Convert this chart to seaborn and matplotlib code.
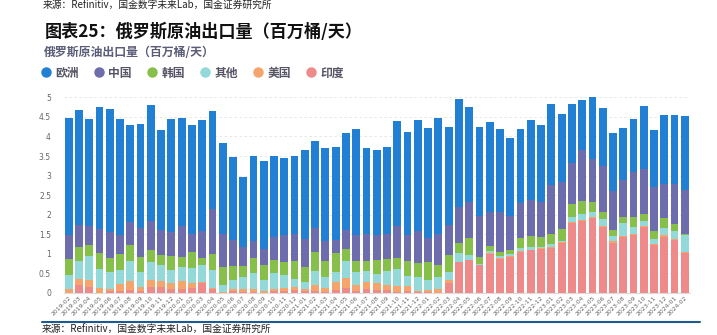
import numpy as np
import pandas as pd
import matplotlib
matplotlib.use("Agg")
import matplotlib.pyplot as plt
from matplotlib.lines import Line2D
import seaborn as sns

months = list(pd.period_range("2019-02", "2024-02", freq="M").strftime("%Y-%m"))

europe = [3.01, 2.93, 2.75, 3.11, 3.15, 2.96, 2.47, 2.67, 2.97, 2.56, 2.89, 2.77, 2.78, 2.83, 2.49, 2.32, 2.11, 1.78, 2.15, 2.24,
          2.07, 1.98, 2.01, 2.27, 2.21, 2.37, 2.39, 2.50, 2.73, 2.19, 2.18, 2.21, 2.70, 2.64, 2.85, 2.81, 2.95, 2.51, 2.75, 2.43,
          2.28, 2.29, 2.12, 1.99, 1.89, 2.03, 1.95, 2.05, 1.73, 1.52, 1.29, 1.58, 1.47, 1.50, 1.32, 1.36, 1.61, 1.46, 1.75, 1.76, 1.89]
china = [0.60, 0.58, 0.47, 0.61, 0.66, 0.50, 0.59, 0.75, 0.74, 0.63, 0.61, 0.79, 0.47, 0.68, 1.16, 0.84, 0.67, 0.48, 0.45, 0.40,
         0.60, 0.68, 0.68, 0.72, 0.62, 0.50, 0.34, 0.47, 0.65, 0.70, 0.63, 0.64, 0.80, 0.66, 0.81, 0.62, 0.80, 0.76, 0.92, 0.92,
         1.03, 0.87, 1.03, 0.87, 0.89, 0.92, 0.89, 1.25, 1.20, 1.03, 1.31, 1.10, 1.17, 0.99, 0.94, 1.16, 1.16, 1.13, 0.87, 1.03, 1.12]
korea = [0.41, 0.35, 0.28, 0.42, 0.37, 0.39, 0.41, 0.37, 0.31, 0.25, 0.36, 0.25, 0.41, 0.19, 0.39, 0.46, 0.36, 0.28, 0.38, 0.39,
         0.32, 0.34, 0.46, 0.38, 0.50, 0.43, 0.47, 0.30, 0.28, 0.27, 0.35, 0.32, 0.29, 0.38, 0.36, 0.45, 0.30, 0.43, 0.28, 0.43,
         0.18, 0.14, 0.10, 0.11, 0.26, 0.28, 0.26, 0.28, 0.31, 0.34, 0.32, 0.26, 0.20, 0.15, 0.17, 0.24, 0.19, 0.21, 0.25, 0.18, 0.03]
other = [0.36, 0.45, 0.62, 0.47, 0.43, 0.38, 0.50, 0.39, 0.47, 0.41, 0.33, 0.36, 0.39, 0.43, 0.46, 0.19, 0.22, 0.33, 0.42, 0.29,
         0.42, 0.31, 0.20, 0.18, 0.35, 0.26, 0.26, 0.44, 0.33, 0.28, 0.24, 0.36, 0.44, 0.27, 0.35, 0.27, 0.33, 0.21, 0.22, 0.14,
         0.03, 0.06, 0.05, 0.06, 0.07, 0.07, 0.04, 0.07, 0.03, 0.13, 0.15, 0.13, 0.18, 0.14, 0.32, 0.17, 0.12, 0.13, 0.20, 0.20, 0.41]
usa = [0.10, 0.17, 0.17, 0.14, 0.05, 0.18, 0.23, 0.09, 0.16, 0.16, 0.15, 0.20, 0.12, 0.03, 0.04, 0.01, 0.05, 0.06, 0.07, 0.03,
       0.05, 0.08, 0.08, 0.05, 0.15, 0.12, 0.21, 0.26, 0.16, 0.18, 0.17, 0.13, 0.15, 0.12, 0.04, 0.04, 0.09, 0.07, 0.01, 0.00,
       0.00, 0.02, 0.02, 0.02, 0.02, 0.02, 0.02, 0.02, 0.01, 0.03, 0.03, 0.02, 0.02, 0.03, 0.03, 0.03, 0.02, 0.02, 0.03, 0.03, 0.04]
india = [0.00, 0.20, 0.16, 0.00, 0.05, 0.04, 0.08, 0.06, 0.16, 0.15, 0.11, 0.10, 0.13, 0.25, 0.10, 0.01, 0.06, 0.03, 0.02, 0.01,
         0.05, 0.06, 0.08, 0.05, 0.05, 0.02, 0.07, 0.13, 0.05, 0.09, 0.08, 0.07, 0.02, 0.05, 0.02, 0.03, 0.00, 0.26, 0.78, 0.84,
         0.72, 0.99, 0.88, 0.92, 1.05, 1.09, 1.12, 1.15, 1.29, 1.78, 1.84, 1.91, 1.68, 1.29, 1.43, 1.49, 1.69, 1.22, 1.44, 1.35, 1.02]

series_names = ["欧洲", "中国", "韩国", "其他", "美国", "印度"]
colors = {"欧洲": "#2180d4", "中国": "#6d6cac", "韩国": "#86c04a",
          "其他": "#93d9d9", "美国": "#f5a46c", "印度": "#ee8a8a"}

df = pd.DataFrame({"month": months, "欧洲": europe, "中国": china, "韩国": korea,
                   "其他": other, "美国": usa, "印度": india})
stack_order = ["印度", "美国", "其他", "韩国", "中国", "欧洲"]
cum = df[stack_order].cumsum(axis=1)
cum["month"] = df["month"]

sns.set_theme(style="white")
plt.rcParams["font.family"] = ["Noto Sans CJK SC", "DejaVu Sans"]
plt.rcParams["axes.unicode_minus"] = False

fig = plt.figure(figsize=(7.17, 3.35), dpi=100)
ax = fig.add_axes([63.5 / 717, 42 / 335, (690 - 63.5) / 717, (293 - 97.3) / 335])

for name in reversed(stack_order):
    sns.barplot(data=cum, x="month", y=name, color=colors[name], saturation=1,
                width=0.76, linewidth=0, ax=ax, zorder=3)

ax.set_ylim(0, 5)
ax.set_xlim(-0.5, len(months) - 0.5)
ax.set_yticks(np.arange(0, 5.01, 0.5))
ax.set_yticklabels(["0", "0.5", "1", "1.5", "2", "2.5", "3", "3.5", "4", "4.5", "5"],
                   fontsize=5.5, color="#666666", family="DejaVu Sans")
ax.yaxis.grid(True, linestyle=(0, (3, 3)), color="#e3e3e3", linewidth=0.6, zorder=0)
ax.xaxis.grid(False)
ax.set_xlabel("")
ax.set_ylabel("")
ax.tick_params(axis="y", length=0, pad=9)
ax.tick_params(axis="x", length=0, pad=1.5)
ax.set_xticks(range(len(months)))
ax.set_xticklabels(months, rotation=45, ha="right", rotation_mode="anchor",
                   fontsize=4.4, color="#666666", family="DejaVu Sans")
for s in ["top", "right", "left"]:
    ax.spines[s].set_visible(False)
ax.spines["bottom"].set_color("#dddddd")
ax.spines["bottom"].set_linewidth(0.8)

# header / titles
fig.text(43 / 717, 1.0 - 0.5 / 335, "来源：Refinitiv，国金数字未来Lab，国金证券研究所",
         fontsize=7, color="#222222", va="top", ha="left")
fig.text(45 / 717, 1 - 32 / 335, "图表25：俄罗斯原油出口量（百万桶/天）",
         fontsize=12.3, fontweight="bold", color="#111111", va="center", ha="left")
fig.text(44 / 717, 1 - 52 / 335, "俄罗斯原油出口量（百万桶/天）",
         fontsize=8.6, fontweight="bold", color="#5a5c78", va="center", ha="left")

handles = [Line2D([0], [0], marker="o", linestyle="", markersize=6.5,
                  markerfacecolor=colors[n], markeredgecolor=colors[n]) for n in series_names]
leg = fig.legend(handles, series_names, loc="center left",
                 bbox_to_anchor=(40 / 717, 1 - 73 / 335), ncol=6, frameon=False,
                 fontsize=8.5, handletextpad=0.3, columnspacing=1.2, handlelength=1.0,
                 borderaxespad=0, borderpad=0)
for t in leg.get_texts():
    t.set_color("#555566")
    t.set_fontweight("bold")

# footer
fig.add_artist(Line2D([42 / 717, 700 / 717], [1 - 322 / 335, 1 - 322 / 335],
                      color="#1f5a8c", linewidth=1.5))
fig.text(42 / 717, 1 - 324.5 / 335, "来源：Refinitiv，国金数字未来Lab，国金证券研究所",
         fontsize=7, color="#222222", va="top", ha="left")

fig.savefig("out.png", dpi=100)
